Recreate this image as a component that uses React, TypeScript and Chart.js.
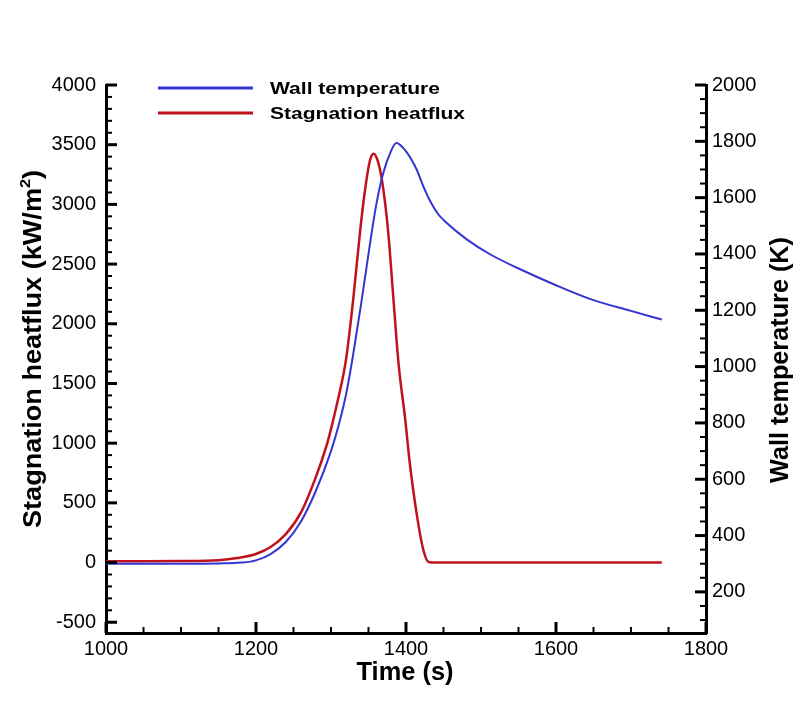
import React, { useEffect, useRef } from 'react';
import { Chart, registerables } from 'chart.js';

Chart.register(...registerables);

// ---- data ----
const timeWall = [1000, 1050, 1100, 1150, 1180, 1200, 1220, 1240, 1260, 1280, 1300, 1310, 1320, 1330, 1340, 1350, 1360, 1370, 1380, 1387, 1401, 1414, 1423, 1432, 1443, 1454, 1481, 1512, 1548, 1600, 1650, 1700, 1741];
const wallTemp = [300, 300, 300, 301, 304, 312, 335, 378, 450, 560, 700, 790, 900, 1050, 1220, 1400, 1570, 1690, 1765, 1794, 1761, 1701, 1641, 1589, 1541, 1511, 1452, 1399, 1351, 1289, 1236, 1198, 1167];

const timeFlux = [1000, 1050, 1100, 1150, 1175, 1200, 1220, 1240, 1260, 1280, 1295, 1308, 1320, 1330, 1339, 1346, 1352, 1357, 1362, 1368, 1376, 1383, 1390, 1399, 1405, 1414, 1423, 1430, 1440, 1741];
const heatFlux = [12, 12, 13, 20, 38, 72, 132, 240, 420, 720, 1000, 1330, 1700, 2228, 2787, 3150, 3370, 3425, 3370, 3200, 2787, 2228, 1671, 1197, 836, 418, 109, 5, 0, 0];

const xTicks = [1000, 1200, 1400, 1600, 1800];
const fluxTicks = [-500, 0, 500, 1000, 1500, 2000, 2500, 3000, 3500, 4000];
const tempTicks = [200, 400, 600, 800, 1000, 1200, 1400, 1600, 1800, 2000];

const X_MIN = 1000, X_MAX = 1800;
const FLUX_MIN = -590, FLUX_MAX = 4000;
const TEMP_MIN = 54, TEMP_MAX = 2000;

const seriesNames = ['Wall temperature', 'Stagnation heatflux'];
const BLUE = '#3535d2';
const RED = '#c0121c';
const FONT = '"Liberation Sans", Arial, Helvetica, sans-serif';

function drawScaled(ctx: CanvasRenderingContext2D, segs: { t: string; size: number; dy?: number }[], x: number, y: number, rot: number, targetW: number, align: 'center' | 'left') {
  ctx.save();
  let w = 0;
  const widths = segs.map((s) => {
    ctx.font = `bold ${s.size}px ${FONT}`;
    const m = ctx.measureText(s.t).width;
    w += m;
    return m;
  });
  const sx = targetW / w;
  ctx.translate(x, y);
  ctx.rotate(rot);
  ctx.scale(sx, 1);
  ctx.fillStyle = '#000';
  ctx.textBaseline = 'alphabetic';
  ctx.textAlign = 'left';
  let cx = align === 'center' ? -w / 2 : 0;
  segs.forEach((s, i) => {
    ctx.font = `bold ${s.size}px ${FONT}`;
    ctx.fillText(s.t, cx, s.dy || 0);
    cx += widths[i];
  });
  ctx.restore();
}

const decorPlugin = {
  id: 'decor',
  beforeDraw(chart: any) {
    const ctx = chart.ctx;
    ctx.save();
    ctx.fillStyle = '#fff';
    ctx.fillRect(0, 0, chart.width, chart.height);
    ctx.restore();
  },
  afterDraw(chart: any) {
    const ctx: CanvasRenderingContext2D = chart.ctx;
    const { left, right, bottom } = chart.chartArea;
    const sx = chart.scales.x, sl = chart.scales.yL, sr = chart.scales.yR;
    ctx.save();
    ctx.strokeStyle = '#000';
    const line = (x1: number, y1: number, x2: number, y2: number, w: number) => {
      ctx.lineWidth = w;
      ctx.beginPath();
      ctx.moveTo(x1, y1);
      ctx.lineTo(x2, y2);
      ctx.stroke();
    };
    // inward ticks
    for (let v = X_MIN; v <= X_MAX; v += 50) {
      const p = sx.getPixelForValue(v);
      const major = xTicks.includes(v);
      line(p, bottom, p, bottom - (major ? 11 : 6), major ? 3 : 2);
    }
    for (let v = -500; v <= FLUX_MAX; v += 100) {
      const p = sl.getPixelForValue(v);
      const major = fluxTicks.includes(v);
      line(left, p, left + (major ? 11 : 6), p, major ? 3 : 2);
    }
    for (let v = 100; v <= TEMP_MAX; v += 50) {
      const p = sr.getPixelForValue(v);
      const major = tempTicks.includes(v);
      line(right, p, right - (major ? 11 : 6), p, major ? 3 : 2);
    }
    // legend
    ctx.strokeStyle = BLUE;
    line(158, 88, 253, 88, 3);
    ctx.strokeStyle = RED;
    line(158, 113, 253, 113, 3);
    drawScaled(ctx, [{ t: seriesNames[0], size: 17 }], 270, 94, 0, 170, 'left');
    drawScaled(ctx, [{ t: seriesNames[1], size: 17 }], 270, 119, 0, 195, 'left');
    // axis titles
    drawScaled(ctx, [{ t: 'Time (s)', size: 25 }], 405, 680, 0, 97, 'center');
    drawScaled(ctx, [{ t: 'Stagnation heatflux (kW/m', size: 25 }, { t: '2', size: 15, dy: -11 }, { t: ')', size: 25 }], 41, 349, -Math.PI / 2, 358, 'center');
    drawScaled(ctx, [{ t: 'Wall temperature (K)', size: 25 }], 788, 360, -Math.PI / 2, 246, 'center');
    ctx.restore();
  },
};

export default function App() {
  const ref = useRef<HTMLCanvasElement>(null);
  useEffect(() => {
    const canvas = ref.current!;
    const tickFont = { family: FONT, size: 20 };
    const border = { display: true, width: 3, color: '#000' };
    const fmt = (v: any) => String(v);
    const chart = new Chart(canvas, {
      type: 'line',
      data: {
        datasets: [
          {
            label: seriesNames[0],
            data: timeWall.map((t, i) => ({ x: t, y: wallTemp[i] })),
            yAxisID: 'yR',
            borderColor: BLUE,
            borderWidth: 2,
            pointRadius: 0,
            cubicInterpolationMode: 'monotone',
            fill: false,
          },
          {
            label: seriesNames[1],
            data: timeFlux.map((t, i) => ({ x: t, y: heatFlux[i] })),
            yAxisID: 'yL',
            borderColor: RED,
            borderWidth: 2.5,
            pointRadius: 0,
            cubicInterpolationMode: 'monotone',
            fill: false,
          },
        ],
      },
      options: {
        animation: false,
        responsive: false,
        devicePixelRatio: 1,
        events: [],
        layout: { padding: { top: 85, left: 0, right: 0, bottom: 0 } },
        plugins: { legend: { display: false }, tooltip: { enabled: false }, title: { display: false } },
        scales: {
          x: {
            type: 'linear',
            position: 'bottom',
            min: X_MIN,
            max: X_MAX,
            grid: { display: false, drawTicks: false },
            border,
            ticks: { font: tickFont, color: '#000', padding: 4, maxRotation: 0, callback: fmt },
            afterBuildTicks: (s: any) => { s.ticks = xTicks.map((v) => ({ value: v })); },
            afterFit: (s: any) => { s.height = 80; },
          },
          yL: {
            type: 'linear',
            position: 'left',
            min: FLUX_MIN,
            max: FLUX_MAX,
            grid: { display: false, drawTicks: false },
            border,
            ticks: { font: tickFont, color: '#000', padding: 10, callback: fmt },
            afterBuildTicks: (s: any) => { s.ticks = fluxTicks.map((v) => ({ value: v })); },
            afterFit: (s: any) => { s.width = 106; },
          },
          yR: {
            type: 'linear',
            position: 'right',
            min: TEMP_MIN,
            max: TEMP_MAX,
            grid: { display: false, drawTicks: false },
            border,
            ticks: { font: tickFont, color: '#000', padding: 6, callback: fmt },
            afterBuildTicks: (s: any) => { s.ticks = tempTicks.map((v) => ({ value: v })); },
            afterFit: (s: any) => { s.width = 96; },
          },
        },
      } as any,
      plugins: [decorPlugin],
    });
    return () => chart.destroy();
  }, []);
  return (
    <div style={{ position: 'absolute', left: 0, top: 0, width: 802, height: 713 }}>
      <canvas ref={ref} width={802} height={713} style={{ width: 802, height: 713, display: 'block' }} />
    </div>
  );
}
